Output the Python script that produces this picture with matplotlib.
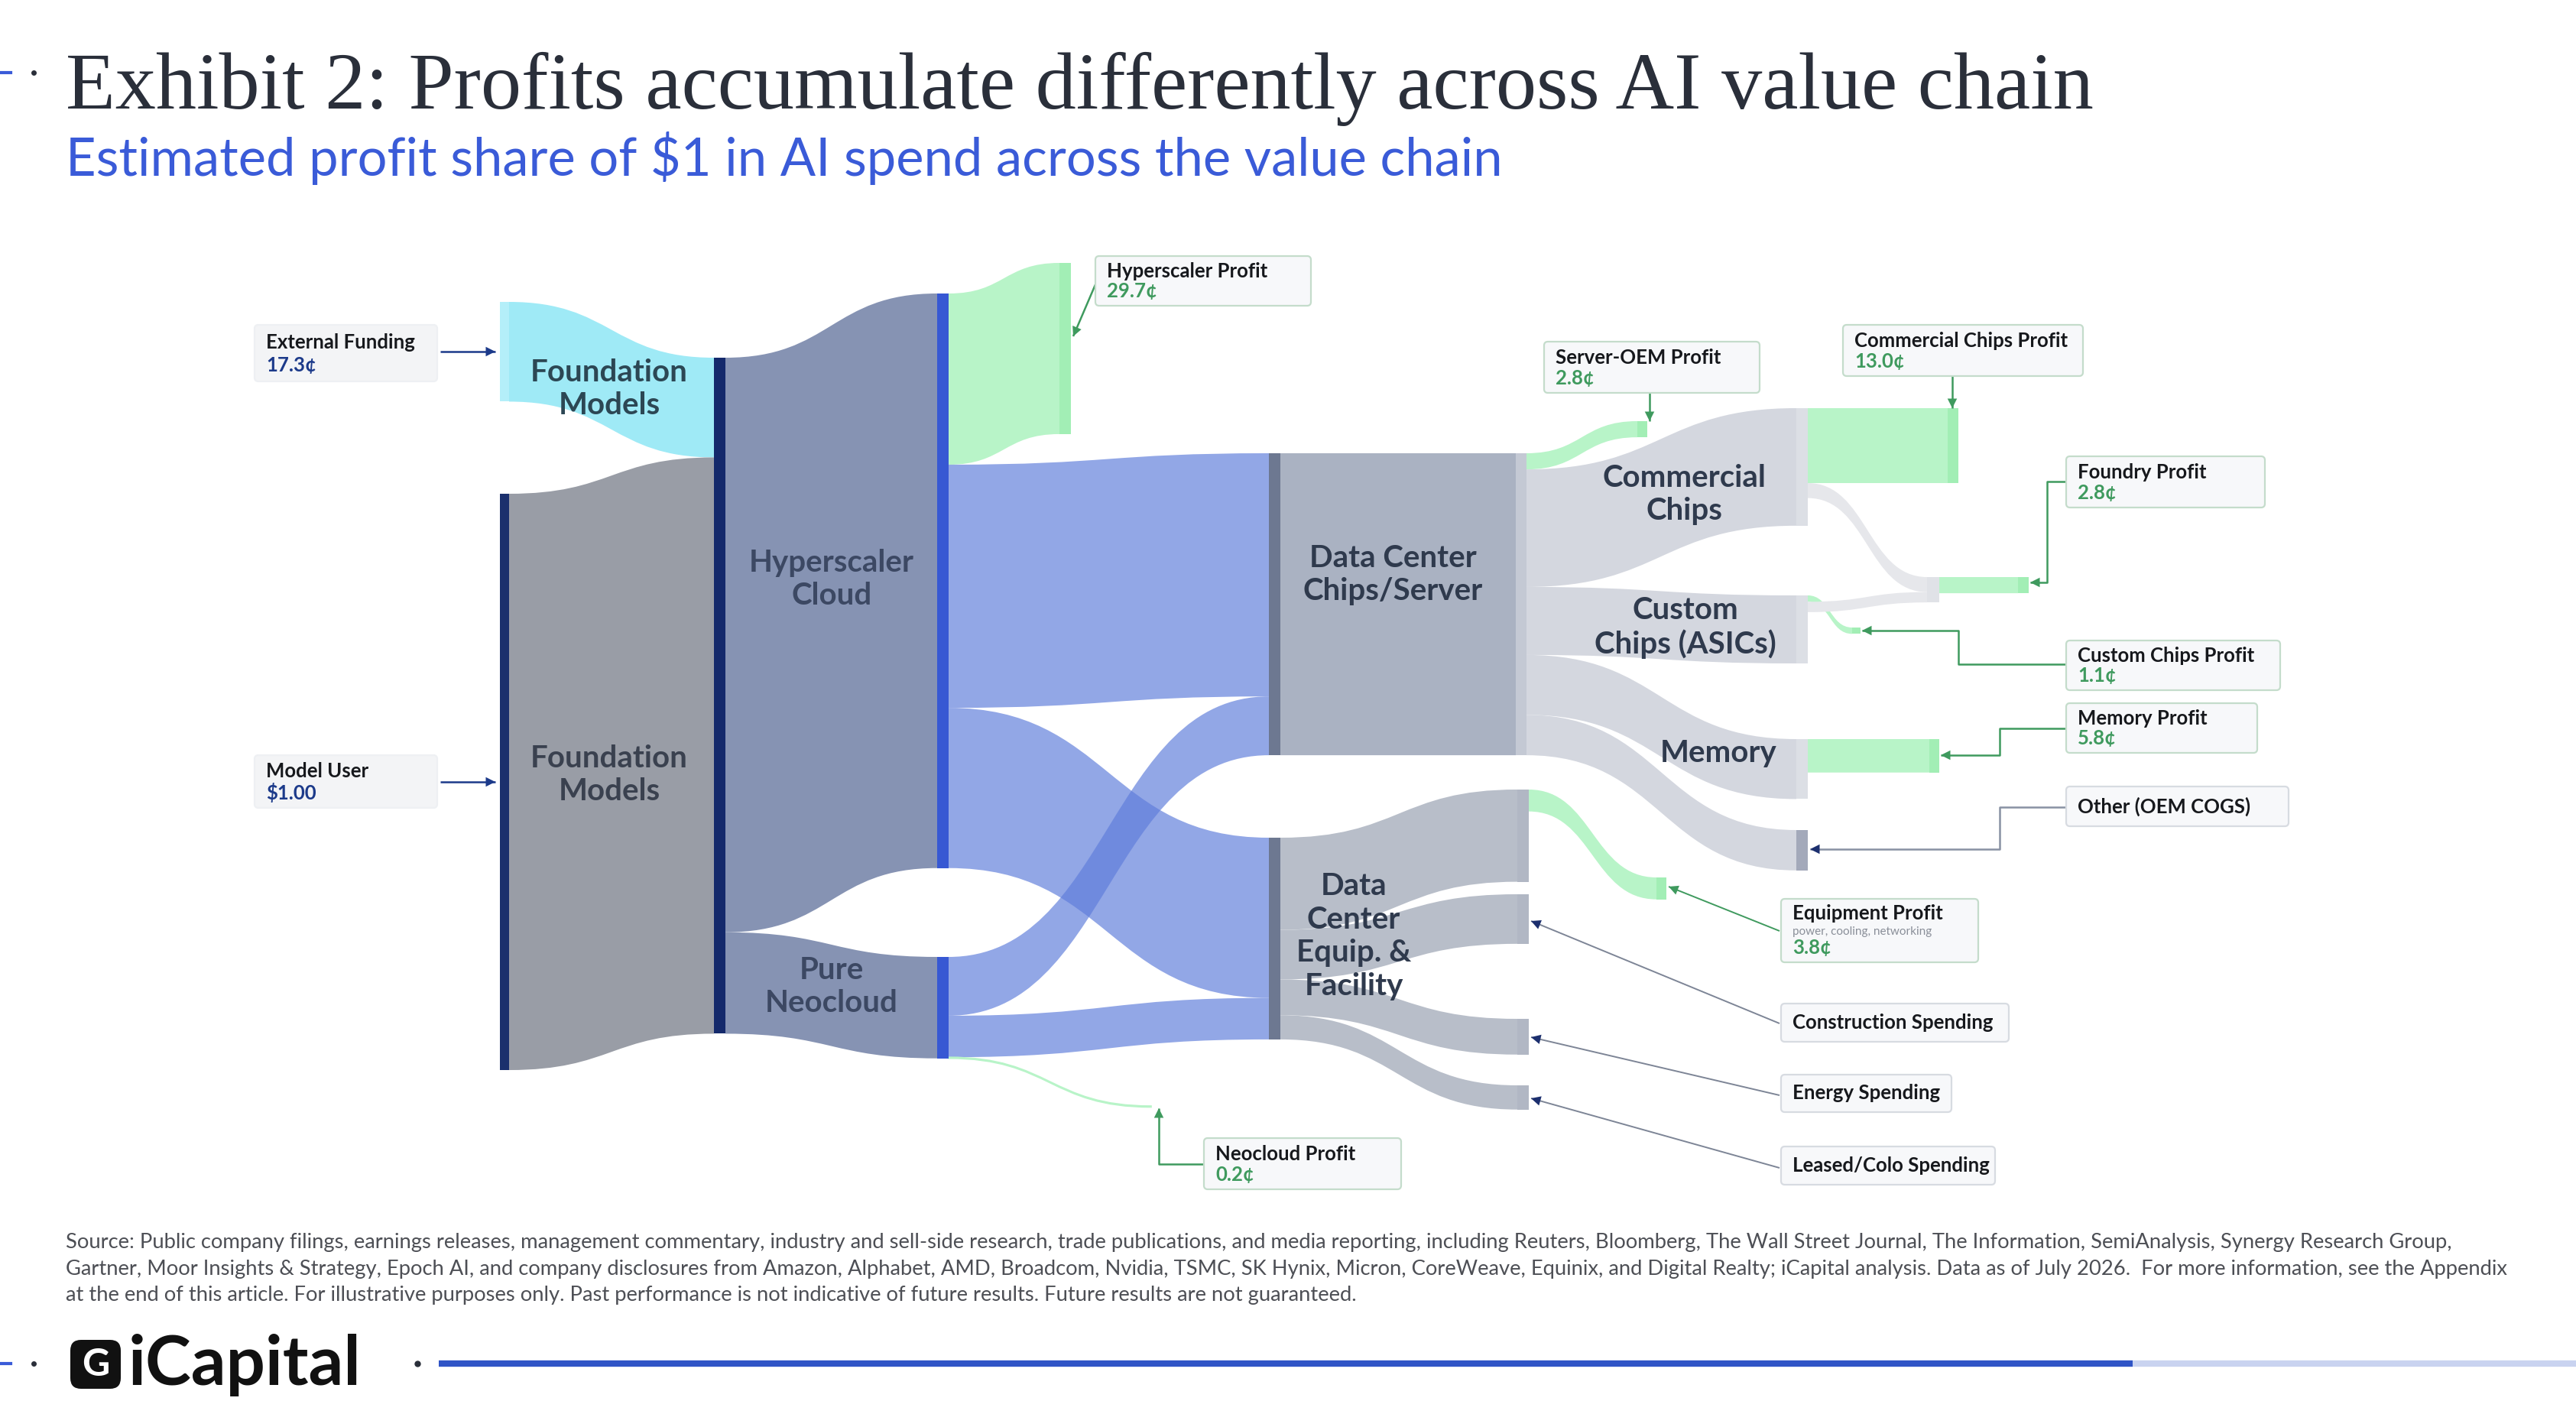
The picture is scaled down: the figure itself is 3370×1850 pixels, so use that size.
import matplotlib
matplotlib.use('Agg')
import matplotlib.pyplot as plt
from matplotlib.path import Path
from matplotlib.patches import PathPatch, Rectangle, FancyBboxPatch

plt.rcParams['font.family'] = ['Lato', 'DejaVu Sans']

# ---- data: cents of every $1 of AI spend flowing down the chain ----
link_src = ['ext', 'user', 'fm', 'fm',
            'hyp', 'hyp', 'hyp', 'neo', 'neo', 'neo',
            'dcc', 'dce', 'dce', 'dce', 'dce',
            'dcc5', 'dcc5', 'dcc5', 'dcc5', 'dcc5', 'equip',
            'comm', 'comm', 'cust', 'cust', 'mem', 'foundry']
link_dst = ['fm', 'fm', 'hyp', 'neo',
            'hprofit', 'dcc', 'dce', 'dcc', 'dce', 'nprofit',
            'dcc5', 'equip', 'constr', 'energy', 'leased',
            'soem', 'comm', 'cust', 'mem', 'other', 'eprofit',
            'cprofit', 'foundry', 'custprofit', 'foundry', 'mprofit', 'fprofit']
link_val = [17.3, 100.0, 99.7, 17.6,
            29.7, 42.2, 27.8, 10.2, 7.2, 0.2,
            52.4, 16.0, 8.6, 6.2, 4.2,
            2.8, 20.4, 11.8, 10.4, 7.0, 3.8,
            13.0, 2.6, 1.1, 1.8, 5.8, 2.8]

profit_nodes = ['hprofit', 'nprofit', 'soem', 'eprofit', 'cprofit', 'custprofit', 'mprofit', 'fprofit']

title = 'Exhibit 2: Profits accumulate differently across AI value chain'
subtitle = 'Estimated profit share of $1 in AI spend across the value chain'
source_lines = [
    'Source: Public company filings, earnings releases, management commentary, industry and sell-side research, '
    'trade publications, and media reporting, including Reuters, Bloomberg, The Wall Street Journal, The Information, '
    'SemiAnalysis, Synergy Research Group,',
    'Gartner, Moor Insights & Strategy, Epoch AI, and company disclosures from Amazon, Alphabet, AMD, Broadcom, Nvidia, '
    'TSMC, SK Hynix, Micron, CoreWeave, Equinix, and Digital Realty; iCapital analysis. Data as of July 2026.  '
    'For more information, see the Appendix',
    'at the end of this article. For illustrative purposes only. Past performance is not indicative of future results. '
    'Future results are not guaranteed.',
]

# ---- layout (pixels of the 3370x1850 canvas) ----
SCALE = 7.54  # px per cent
GREEN_BAR = '#a2eeb5'
NODES = {
    'ext': (654, 666, 395, '#b4eff9'),
    'user': (654, 666, 646, '#1b306d'),
    'fm': (934, 949, 468, '#14296b'),
    'hyp': (1226, 1241, 384, '#3758d3'),
    'neo': (1226, 1241, 1252, '#3758d3'),
    'hprofit': (1386, 1401, 344, GREEN_BAR),
    'nprofit': (1506, 1516, 1447, None),
    'dcc': (1660, 1675, 593, '#6d7891'),
    'dce': (1660, 1675, 1096, '#6d7891'),
    'dcc5': (1983, 1997, 593, '#c4c9d4'),
    'equip': (1985, 2000, 1033, '#b1b7c4'),
    'constr': (1985, 2000, 1170, '#b1b7c4'),
    'energy': (1985, 2000, 1333, '#b1b7c4'),
    'leased': (1985, 2000, 1420, '#b1b7c4'),
    'soem': (2142, 2155, 551, GREEN_BAR),
    'eprofit': (2167, 2180, 1148, GREEN_BAR),
    'comm': (2350, 2365, 534, '#dcdfe5'),
    'cust': (2350, 2365, 779, '#dcdfe5'),
    'mem': (2350, 2365, 967, '#dcdfe5'),
    'other': (2350, 2365, 1086, '#a3a9ba'),
    'custprofit': (2423, 2434, 821, GREEN_BAR),
    'foundry': (2521, 2537, 755, '#e0e2e7'),
    'mprofit': (2524, 2537, 967, GREEN_BAR),
    'cprofit': (2548, 2562, 534, GREEN_BAR),
    'fprofit': (2640, 2654, 755, GREEN_BAR),
}
FLOW_COLOR = {'ext': '#9feaf6', 'user': '#999da6', 'fm': '#8693b3',
              'hyp': '#5f7ddb', 'neo': '#5f7ddb', 'dcc': '#aab2c2', 'dce': '#b8bec9',
              'dcc5': '#d4d7df', 'equip': '#d4d7df', 'comm': '#e6e7eb', 'cust': '#e6e7eb',
              'mem': '#e6e7eb', 'foundry': '#e6e7eb'}
PROFIT_FLOW = '#b8f4c8'


def band(ax, x0, y0a, y0b, x1, y1a, y1b, color, alpha=1.0, lw=0):
    xm = (x0 + x1) / 2
    verts = [(x0, y0a), (xm, y0a), (xm, y1a), (x1, y1a), (x1, y1b),
             (xm, y1b), (xm, y0b), (x0, y0b), (x0, y0a)]
    codes = [Path.MOVETO, Path.CURVE4, Path.CURVE4, Path.CURVE4, Path.LINETO,
             Path.CURVE4, Path.CURVE4, Path.CURVE4, Path.CLOSEPOLY]
    ax.add_patch(PathPatch(Path(verts, codes), fc=color, ec=color, lw=lw, alpha=alpha))


fig = plt.figure(figsize=(33.7, 18.5), dpi=100)
ax = fig.add_axes([0, 0, 1, 1])
ax.set_xlim(0, 3370)
ax.set_ylim(1850, 0)
ax.axis('off')
renderer = fig.canvas.get_renderer()

# node sizes from the link values
in_sum = {n: 0.0 for n in NODES}
out_sum = {n: 0.0 for n in NODES}
for s, d, v in zip(link_src, link_dst, link_val):
    out_sum[s] += v
    in_sum[d] += v

in_off = {n: 0.0 for n in NODES}
out_off = {n: 0.0 for n in NODES}
for s, d, v in zip(link_src, link_dst, link_val):
    sx0, sx1, stop, _ = NODES[s]
    dx0, dx1, dtop, _ = NODES[d]
    h = v * SCALE
    y0a = stop + out_off[s]
    y1a = dtop + in_off[d]
    out_off[s] += h
    in_off[d] += h
    if d in profit_nodes:
        color, alpha = PROFIT_FLOW, 1.0
    else:
        color = FLOW_COLOR[s]
        alpha = 0.68 if s in ('hyp', 'neo') else 1.0
    band(ax, sx1, y0a, y0a + h, dx0, y1a, y1a + h, color, alpha, lw=1.2 if v < 0.5 else 0)

for n, (x0, x1, top, col) in NODES.items():
    if col is None:
        continue
    h = max(in_sum[n], out_sum[n]) * SCALE
    ax.add_patch(Rectangle((x0, top), x1 - x0, h, fc=col, ec='none', zorder=3))

# node names
NAME_KW = dict(ha='center', va='center', fontsize=29, fontweight='bold', linespacing=1.22, zorder=4)
ax.text(797, 509, 'Foundation\nModels', color='#2c4754', **NAME_KW)
ax.text(797, 1014, 'Foundation\nModels', color='#3a414f', **NAME_KW)
ax.text(1088, 758, 'Hyperscaler\nCloud', color='#3c4863', **NAME_KW)
ax.text(1088, 1291, 'Pure\nNeocloud', color='#3c4863', **NAME_KW)
ax.text(1822, 752, 'Data Center\nChips/Server', color='#2f3a4d', **NAME_KW)
ax.text(1771, 1225, 'Data\nCenter\nEquip. &\nFacility', color='#2f3a4d', **NAME_KW)
ax.text(2203, 647, 'Commercial\nChips', color='#2f3a4d', **NAME_KW)
ax.text(2205, 821, 'Custom\nChips (ASICs)', color='#2f3a4d', **NAME_KW)
ax.text(2248, 986, 'Memory', color='#2f3a4d', **NAME_KW)

val = dict(zip(link_dst, link_val))
GREEN_TXT = '#3f9a5e'
NAVY = '#1c3a8a'
BOX_FS = 18.5


def box(x0, y0, x1, y1, name, value=None, vcolor=GREEN_TXT, edge='#c4dccb', sub=None, fc='#f7f8fa'):
    ax.add_patch(FancyBboxPatch((x0, y0), x1 - x0, y1 - y0, boxstyle='round,pad=0,rounding_size=5',
                                fc=fc, ec=edge, lw=1.6, zorder=5))
    h = y1 - y0
    tkw = dict(fontsize=BOX_FS, fontweight='bold', va='center', zorder=6)
    if value is None:
        ax.text(x0 + 15, y0 + h / 2, name, color='#16181c', **tkw)
    elif sub is None:
        ax.text(x0 + 15, y0 + h * 0.31, name, color='#16181c', **tkw)
        ax.text(x0 + 15, y0 + h * 0.71, value, color=vcolor, **tkw)
    else:
        ax.text(x0 + 15, y0 + h * 0.23, name, color='#16181c', **tkw)
        ax.text(x0 + 15, y0 + h * 0.52, sub, fontsize=11, color='#8a8f99', va='center', zorder=6)
        ax.text(x0 + 15, y0 + h * 0.77, value, color=vcolor, **tkw)


def arrow(points, color, head=None, lw=1.8):
    xs = [p[0] for p in points]
    ys = [p[1] for p in points]
    ax.plot(xs, ys, color=color, lw=lw, zorder=4, solid_capstyle='butt')
    ax.annotate('', xy=points[-1], xytext=points[-2], zorder=4,
                arrowprops=dict(arrowstyle='-|>,head_length=0.9,head_width=0.45',
                                color=head or color, lw=0, shrinkA=0, shrinkB=0))


def cents(v):
    return f'{v:.1f}\u00a2'


# left input boxes
box(333, 425, 572, 499, 'External Funding', cents(link_val[0]), vcolor=NAVY, edge='#eef0f3', fc='#f3f4f6')
box(333, 988, 572, 1057, 'Model User', f'${link_val[1] / 100:.2f}', vcolor=NAVY, edge='#eef0f3', fc='#f3f4f6')
arrow([(576, 460), (648, 460)], NAVY)
arrow([(576, 1023), (648, 1023)], NAVY)

# profit and cost boxes
box(1433, 335, 1715, 400, 'Hyperscaler Profit', cents(val['hprofit']))
arrow([(1434, 370), (1404, 440)], GREEN_TXT)
box(2020, 447, 2302, 514, 'Server-OEM Profit', cents(val['soem']))
arrow([(2158, 514), (2158, 551)], GREEN_TXT)
box(2411, 425, 2725, 492, 'Commercial Chips Profit', cents(val['cprofit']))
arrow([(2554, 492), (2554, 534)], GREEN_TXT)
box(2703, 597, 2963, 664, 'Foundry Profit', cents(val['fprofit']))
arrow([(2703, 630), (2678, 630), (2678, 762), (2656, 762)], GREEN_TXT)
box(2703, 838, 2983, 903, 'Custom Chips Profit', cents(val['custprofit']))
arrow([(2703, 869), (2562, 869), (2562, 825), (2436, 825)], GREEN_TXT)
box(2703, 920, 2953, 985, 'Memory Profit', cents(val['mprofit']))
arrow([(2703, 953), (2616, 953), (2616, 988), (2539, 988)], GREEN_TXT)
box(2703, 1029, 2994, 1081, 'Other (OEM COGS)', edge='#d7dbe1')
arrow([(2703, 1056), (2616, 1056), (2616, 1111), (2368, 1111)], '#8891a3', head='#1c2f6e')
box(2330, 1176, 2588, 1259, 'Equipment Profit', cents(val['eprofit']), sub='power, cooling, networking')
arrow([(2328, 1218), (2183, 1160)], GREEN_TXT, lw=1.4)
box(2330, 1313, 2628, 1363, 'Construction Spending', edge='#d7dbe1')
arrow([(2328, 1339), (2003, 1205)], '#7d8596', head='#1c2f6e', lw=1.4)
box(2330, 1406, 2553, 1455, 'Energy Spending', edge='#d7dbe1')
arrow([(2328, 1433), (2003, 1357)], '#7d8596', head='#1c2f6e', lw=1.4)
box(2330, 1500, 2610, 1550, 'Leased/Colo Spending', edge='#d7dbe1')
arrow([(2328, 1528), (2003, 1437)], '#7d8596', head='#1c2f6e', lw=1.4)
box(1575, 1489, 1833, 1556, 'Neocloud Profit', cents(val['nprofit']))
arrow([(1575, 1523), (1516, 1523), (1516, 1450)], GREEN_TXT)


def fit_text(x, y, s, width, **kw):
    t = ax.text(x, y, s, **kw)
    w = t.get_window_extent(renderer).width
    t.set_fontsize(t.get_fontsize() * width / w)
    return t


# titles
fit_text(86, 142, title, 2655, fontsize=60, family=['Liberation Serif', 'DejaVu Serif'],
         color='#2a2f3a', va='baseline')
fit_text(86, 230, subtitle, 1876, fontsize=40, color='#3a5bd8', va='baseline')
ax.plot([0, 14], [95, 95], color='#3a5bd8', lw=3)
ax.plot([44], [95], 'o', color='#2a2f3a', ms=4)

# source note (second line is the longest)
t = fit_text(86, 1668, source_lines[1], 3189, fontsize=18, color='#4d4f55', va='baseline')
fs = t.get_fontsize()
ax.text(86, 1633, source_lines[0], fontsize=fs, color='#4d4f55', va='baseline')
ax.text(86, 1702, source_lines[2], fontsize=fs, color='#4d4f55', va='baseline')

# footer: logo and rule
ax.add_patch(FancyBboxPatch((92, 1753), 66, 64, boxstyle='round,pad=0,rounding_size=14',
                            fc='#111111', ec='none'))
ax.text(125, 1786, 'G', fontsize=36, fontweight='bold', color='white', ha='center', va='center')
fit_text(168, 1812, 'iCapital', 305, fontsize=60, fontweight='bold', color='#111111', va='baseline')
ax.plot([574, 2790], [1784, 1784], color='#2f54c6', lw=6, solid_capstyle='butt')
ax.plot([2790, 3370], [1784, 1784], color='#c9d3f0', lw=6, solid_capstyle='butt')
ax.plot([546], [1784], 'o', color='#2a2f3a', ms=5)
ax.plot([0, 14], [1784, 1784], color='#3a5bd8', lw=3)
ax.plot([44], [1784], 'o', color='#2a2f3a', ms=4)

fig.savefig('out.png', dpi=100, facecolor='white')
